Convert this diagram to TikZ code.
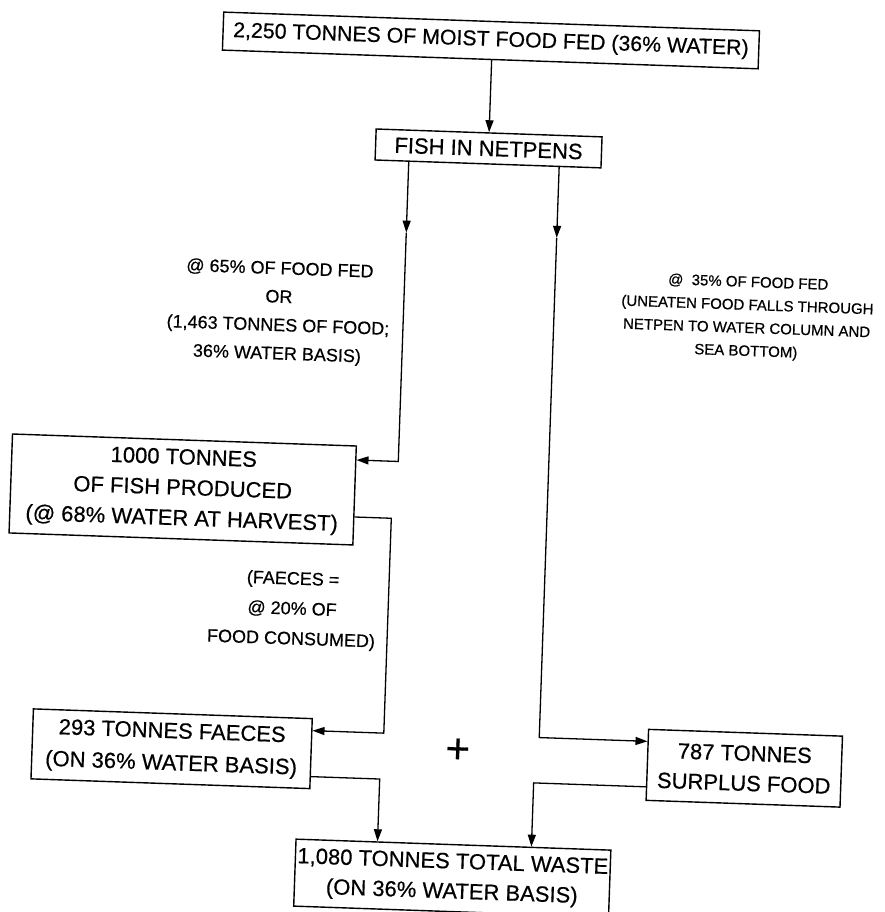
\documentclass[tikz,border=0pt]{standalone}
\usepackage{fontspec}
\setmainfont{Liberation Sans}[FakeBold=0.5]
\usetikzlibrary{arrows.meta,calc}
\begin{document}
\begin{tikzpicture}[x=1pt,y=-1pt,
  box/.style={draw, line width=1.4pt, align=center, inner sep=0pt,
              font=\fontsize{22}{30}\selectfont},
  note/.style={align=center, inner sep=0pt},
  flow/.style={line width=1.3pt},
  arr/.style={flow, -{Triangle[length=12pt,width=8pt]}},
]
\fill[white] (0,0) rectangle (884,912);
\useasboundingbox (0,0) rectangle (884,912);
\begin{scope}[rotate around={-2:(442,456)}, transform shape]
  % boxes
  \node[box, minimum width=536pt, minimum height=38pt,
        font=\fontsize{21.3}{26}\selectfont] (feed) at (476.4,39)
        {2,250 TONNES OF MOIST FOOD FED (36\% WATER)};
  \node[box, minimum width=226pt, minimum height=31pt] (pens) at (477.8,147)
        {FISH IN NETPENS};
  \node[box, minimum width=344pt, minimum height=99pt,
        font=\fontsize{22}{30.5}\selectfont] (fish) at (184,498.5)
        {1000 TONNES\\OF FISH PRODUCED\\(@ 68\% WATER AT HARVEST)};
  \node[box, minimum width=279pt, minimum height=70pt,
        font=\fontsize{22}{32}\selectfont] (faeces) at (182,758)
        {293 TONNES FAECES\\(ON 36\% WATER BASIS)};
  \node[box, minimum width=194pt, minimum height=71pt] (surplus) at (755,757.5)
        {787 TONNES\\SURPLUS FOOD};
  \node[box, minimum width=315pt, minimum height=67pt,
        font=\fontsize{22}{30}\selectfont] (waste) at (467,877.5)
        {1,080 TONNES TOTAL WASTE\\(ON 36\% WATER BASIS)};

  % labels
  \node[note, font=\fontsize{18}{28.4}\selectfont] (eaten) at (273.5,318)
        {@ 65\% OF FOOD FED\\OR\\(1,463 TONNES OF FOOD;\\36\% WATER BASIS)};
  \node[note, font=\fontsize{15}{23}\selectfont] (uneaten) at (742,307)
        {@\ \ 35\% OF FOOD FED\\(UNEATEN FOOD FALLS THROUGH\\NETPEN TO WATER COLUMN AND\\SEA BOTTOM)};
  \node[note, font=\fontsize{18}{30}\selectfont] (ratio) at (297.5,615)
        {(FAECES =\\@ 20\% OF\\FOOD CONSUMED)};
  \node[note, font=\fontsize{42}{42}\selectfont] (plus) at (468,750) {+};

  % bend points of the flow lines
  \coordinate (lmid)  at (398.5,234);
  \coordinate (lturn) at (398.5,463);
  \coordinate (rmid)  at (549,234);
  \coordinate (rturn) at (549,734);
  \coordinate (fturn) at (393.5,520);
  \coordinate (fdown) at (393.5,735);
  \coordinate (aturn) at (391,781);
  \coordinate (sturn) at (545,779.5);

  % flows
  \draw[arr] ($(feed.south west)!(pens.north)!(feed.south east)$) -- (pens.north);

  \draw[arr] ($(pens.south west)!(lmid)!(pens.south east)$) -- (lmid);
  \draw[arr] (lmid) -- (lturn) -- ($(fish.north east)!(lturn)!(fish.south east)$);

  \draw[arr] ($(pens.south west)!(rmid)!(pens.south east)$) -- (rmid);
  \draw[arr] (rmid) -- (rturn) -- ($(surplus.north west)!(rturn)!(surplus.south west)$);

  \draw[arr] ($(fish.north east)!(fturn)!(fish.south east)$) -- (fturn) -- (fdown)
             -- ($(faeces.north east)!(fdown)!(faeces.south east)$);

  \draw[arr] ($(faeces.north east)!(aturn)!(faeces.south east)$) -- (aturn)
             -- ($(waste.north west)!(aturn)!(waste.north east)$);

  \draw[arr] ($(surplus.north west)!(sturn)!(surplus.south west)$) -- (sturn)
             -- ($(waste.north west)!(sturn)!(waste.north east)$);
\end{scope}
\end{tikzpicture}
\end{document}
